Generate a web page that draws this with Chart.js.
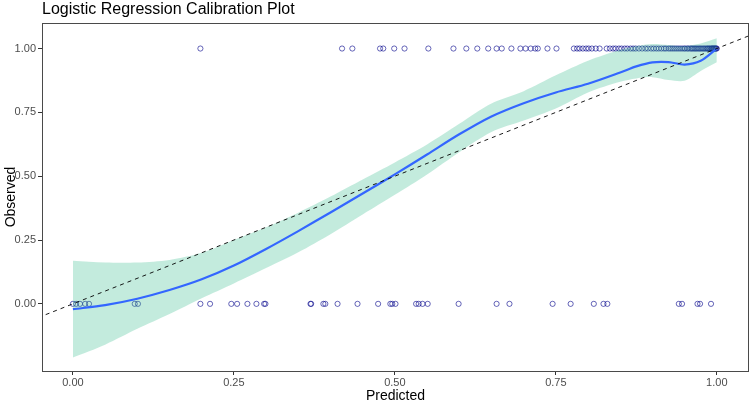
<!DOCTYPE html>
<html>
<head>
<meta charset="utf-8">
<script src="https://cdn.jsdelivr.net/npm/chart.js@4/dist/chart.umd.min.js"></script>
<style>
  html, body { margin: 0; padding: 0; background: #fff; overflow: hidden; }
  #wrap { width: 749px; height: 402px; }
</style>
</head>
<body>
<div id="wrap"><canvas id="chart"></canvas></div>
<script>
// predicted probabilities of observed outcomes
const observed1 = [0.198, 0.418, 0.434, 0.477, 0.482, 0.499, 0.515, 0.552, 0.591, 0.611,
  0.628, 0.645, 0.658, 0.666, 0.681, 0.695, 0.703, 0.711, 0.718, 0.722, 0.737, 0.751,
  0.778, 0.783, 0.787, 0.792, 0.797, 0.801, 0.806, 0.812, 0.818, 0.829, 0.834, 0.839,
  0.843, 0.848, 0.852, 0.857, 0.861, 0.866, 0.870, 0.874, 0.879, 0.884, 0.889, 0.893,
  0.898, 0.902, 0.906, 0.910, 0.914, 0.918, 0.921, 0.925, 0.928, 0.931, 0.934, 0.937,
  0.940, 0.943, 0.946, 0.949, 0.951, 0.954, 0.956, 0.959, 0.961, 0.963, 0.965, 0.967,
  0.969, 0.971, 0.973, 0.975, 0.977, 0.979, 0.981, 0.983, 0.985, 0.986, 0.988, 0.989,
  0.991, 0.992, 0.993, 0.994, 0.995, 0.996, 0.997, 0.998, 0.999, 1.000];
const observed0 = [0.000, 0.005, 0.011, 0.019, 0.025, 0.096, 0.101, 0.198, 0.213, 0.246,
  0.255, 0.271, 0.285, 0.297, 0.299, 0.369, 0.370, 0.389, 0.392, 0.411, 0.442, 0.474,
  0.493, 0.496, 0.501, 0.533, 0.537, 0.543, 0.551, 0.599, 0.658, 0.678, 0.745, 0.773,
  0.809, 0.824, 0.830, 0.941, 0.946, 0.970, 0.974, 0.991];

// loess fit and confidence band
const smoothX = [0.00, 0.05, 0.10, 0.15, 0.20, 0.25, 0.30, 0.35, 0.40, 0.45, 0.50, 0.55,
  0.60, 0.65, 0.70, 0.75, 0.80, 0.85, 0.875, 0.90, 0.925, 0.95, 0.975, 1.00];
const smoothY = [-0.021, -0.005, 0.020, 0.054, 0.096, 0.150, 0.215, 0.285, 0.358, 0.432,
  0.507, 0.585, 0.664, 0.734, 0.786, 0.828, 0.862, 0.906, 0.930, 0.946, 0.947, 0.937,
  0.952, 1.000];
const bandUpper = [0.169, 0.162, 0.162, 0.172, 0.200, 0.250, 0.300, 0.357, 0.420, 0.487,
  0.554, 0.624, 0.705, 0.785, 0.833, 0.895, 0.952, 0.995, 1.010, 1.018, 1.014, 1.010,
  1.020, 1.040];
const bandLower = [-0.210, -0.160, -0.098, -0.040, 0.022, 0.080, 0.140, 0.202, 0.273,
  0.350, 0.427, 0.507, 0.594, 0.673, 0.718, 0.765, 0.828, 0.870, 0.883, 0.888, 0.877,
  0.874, 0.912, 0.946];

const tickValues = [0, 0.25, 0.5, 0.75, 1];
const diagX = [-0.1, 1.1];

const FONT = "'Liberation Sans', Arial, sans-serif";

const xy = (xs, ys) => xs.map((x, i) => ({ x: x, y: ys[i] }));

// panel border + title
const frame = {
  id: "frame",
  afterDraw(chart) {
    const { ctx, chartArea: a } = chart;
    ctx.save();
    ctx.strokeStyle = "#4a4a4a";
    ctx.lineWidth = 1;
    ctx.strokeRect(a.left + 0.5, a.top + 0.5, a.right - a.left - 1, a.bottom - a.top);
    ctx.fillStyle = "#000";
    ctx.font = "16px " + FONT;
    ctx.textBaseline = "middle";
    ctx.fillText("Logistic Regression Calibration Plot", a.left, 10);
    ctx.restore();
  },
};

new Chart(document.getElementById("chart"), {
  type: "scatter",
  data: {
    datasets: [
      {
        data: observed1.map((x) => ({ x: x, y: 1 })),
        pointStyle: "circle",
        pointRadius: 2.6,
        borderWidth: 1,
        borderColor: "rgba(0,0,139,0.6)",
        backgroundColor: "rgba(0,0,0,0)",
        order: 5,
      },
      {
        data: observed0.map((x) => ({ x: x, y: 0 })),
        pointStyle: "circle",
        pointRadius: 2.6,
        borderWidth: 1,
        borderColor: "rgba(0,0,139,0.6)",
        backgroundColor: "rgba(0,0,0,0)",
        order: 5,
      },
      {
        type: "line",
        data: xy(smoothX, bandLower),
        borderWidth: 0,
        pointRadius: 0,
        tension: 0.3,
        fill: false,
        order: 4,
      },
      {
        type: "line",
        data: xy(smoothX, bandUpper),
        borderWidth: 0,
        pointRadius: 0,
        tension: 0.3,
        fill: "-1",
        backgroundColor: "rgba(60,190,145,0.31)",
        order: 3,
      },
      {
        type: "line",
        data: xy(smoothX, smoothY),
        borderColor: "#3366FF",
        borderWidth: 2.2,
        pointRadius: 0,
        tension: 0.3,
        fill: false,
        order: 2,
      },
      {
        type: "line",
        data: xy(diagX, diagX),
        borderColor: "#000",
        borderWidth: 0.9,
        borderDash: [4, 4],
        pointRadius: 0,
        fill: false,
        order: 1,
      },
    ],
  },
  options: {
    responsive: true,
    maintainAspectRatio: false,
    animation: false,
    layout: { autoPadding: false, padding: { top: 23, right: 0, left: 0, bottom: 0 } },
    plugins: {
      legend: { display: false },
      tooltip: { enabled: false },
    },
    scales: {
      x: {
        type: "linear",
        min: -0.048,
        max: 1.05,
        afterBuildTicks: (s) => { s.ticks = tickValues.map((v) => ({ value: v })); },
        afterFit: (s) => { s.height = 31; },
        grid: { drawOnChartArea: false, drawTicks: true, tickLength: 4, color: "#333" },
        border: { display: false },
        ticks: {
          color: "#4d4d4d",
          font: { family: FONT, size: 11 },
          padding: 1,
          callback: (v) => v.toFixed(2),
        },
        title: {
          display: true,
          text: "Predicted",
          color: "#000",
          font: { family: FONT, size: 14 },
          padding: { top: 0, bottom: -3 },
        },
      },
      y: {
        type: "linear",
        min: -0.263,
        max: 1.10,
        afterBuildTicks: (s) => { s.ticks = tickValues.map((v) => ({ value: v })); },
        afterFit: (s) => { s.width = 42; },
        grid: { drawOnChartArea: false, drawTicks: true, tickLength: 4, color: "#333" },
        border: { display: false },
        ticks: {
          color: "#4d4d4d",
          font: { family: FONT, size: 11 },
          padding: 2,
          callback: (v) => v.toFixed(2),
        },
        title: {
          display: true,
          text: "Observed",
          color: "#000",
          font: { family: FONT, size: 14 },
          padding: { top: 3, bottom: 0 },
        },
      },
    },
  },
  plugins: [frame],
});
</script>
</body>
</html>
